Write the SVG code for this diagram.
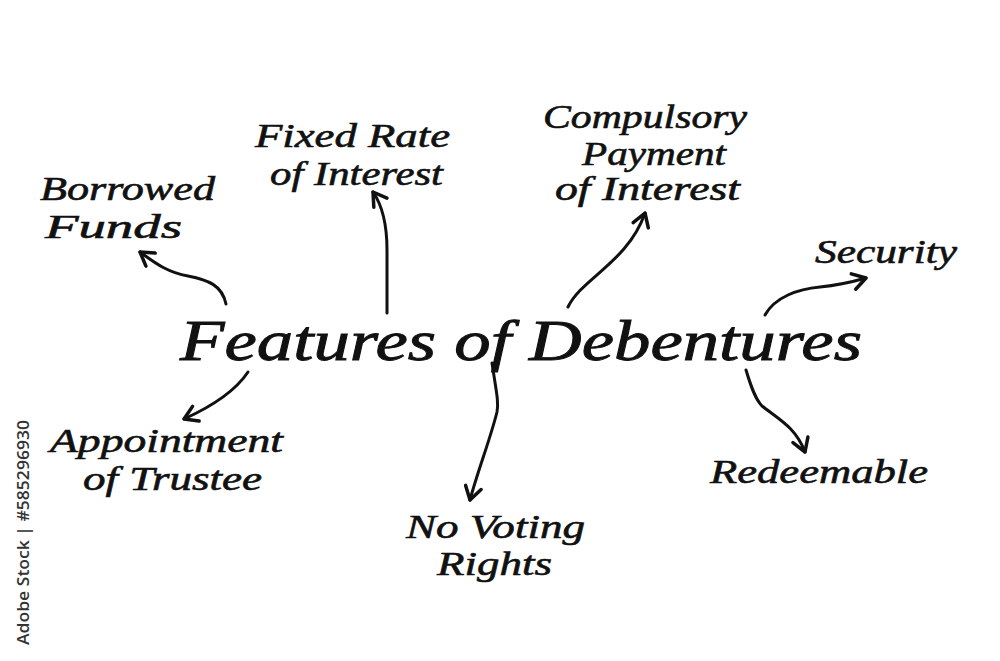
<svg xmlns="http://www.w3.org/2000/svg" width="1000" height="661" viewBox="0 0 1000 661">
<style>
.t{font-family:"Liberation Serif","DejaVu Serif",serif;font-style:italic;fill:#111;stroke:#111;stroke-width:0.6;}
.lbl{font-size:33px;}
.ttl{font-size:56px;stroke-width:0.9;}
.c{fill:none;stroke:#111;stroke-width:3;stroke-linecap:round;stroke-linejoin:round;}
.wm{font-family:"Open Sans","DejaVu Sans",sans-serif;font-size:17px;fill:#333;font-weight:600;}
</style>
<defs>
<marker id="ah" viewBox="-16 -10 20 20" markerWidth="20" markerHeight="20" refX="0" refY="0" orient="auto" markerUnits="userSpaceOnUse">
<path d="M-13,-8 L0,0 L-13,8" fill="none" stroke="#111" stroke-width="3.5" stroke-linecap="round" stroke-linejoin="round"/>
</marker>
</defs>
<rect width="1000" height="661" fill="#fff"/>
<g id="title"><text class="t ttl" x="180" y="360" textLength="682" lengthAdjust="spacingAndGlyphs">Features of Debentures</text></g>
<g id="borrowed"><text class="t lbl" x="40" y="200" textLength="175" lengthAdjust="spacingAndGlyphs">Borrowed</text><text class="t lbl" x="45" y="238" textLength="137" lengthAdjust="spacingAndGlyphs">Funds</text></g>
<g id="fixed"><text class="t lbl" x="255" y="147" textLength="195" lengthAdjust="spacingAndGlyphs">Fixed Rate</text><text class="t lbl" x="270" y="185" textLength="173" lengthAdjust="spacingAndGlyphs">of Interest</text></g>
<g id="compulsory"><text class="t lbl" x="543" y="128" textLength="204" lengthAdjust="spacingAndGlyphs">Compulsory</text><text class="t lbl" x="582" y="165" textLength="144" lengthAdjust="spacingAndGlyphs">Payment</text><text class="t lbl" x="555" y="200" textLength="185" lengthAdjust="spacingAndGlyphs">of Interest</text></g>
<g id="security"><text class="t lbl" x="815" y="263" textLength="142" lengthAdjust="spacingAndGlyphs">Security</text></g>
<g id="appointment"><text class="t lbl" x="50" y="452" textLength="233" lengthAdjust="spacingAndGlyphs">Appointment</text><text class="t lbl" x="83" y="490" textLength="179" lengthAdjust="spacingAndGlyphs">of Trustee</text></g>
<g id="novoting"><text class="t lbl" x="406" y="538" textLength="179" lengthAdjust="spacingAndGlyphs">No Voting</text><text class="t lbl" x="437" y="575" textLength="115" lengthAdjust="spacingAndGlyphs">Rights</text></g>
<g id="redeemable"><text class="t lbl" x="710" y="483" textLength="218" lengthAdjust="spacingAndGlyphs">Redeemable</text></g>
<g id="connectors">
<path class="c" marker-end="url(#ah)" d="M226,304 C222,285 208,280 188,276 C166,272 154,262 140,252"/>
<path class="c" marker-end="url(#ah)" d="M387,313 L387,250 C387,225 382,205 373,192"/>
<path class="c" marker-end="url(#ah)" d="M568,307 C582,278 628,262 645,213"/>
<path class="c" marker-end="url(#ah)" d="M765,315 C775,297 798,289 820,287 C840,285 852,282 866,278"/>
<path class="c" marker-end="url(#ah)" d="M248,372 C236,390 215,405 184,419"/>
<path class="c" marker-end="url(#ah)" d="M492,363 C496,390 499,402 497,412 C490,440 478,470 470,500"/>
<path class="c" marker-end="url(#ah)" d="M746,370 C752,390 756,400 762,406 C780,420 796,428 805,452"/>
</g>
<text class="wm" transform="translate(29,645) rotate(-90)" textLength="225" lengthAdjust="spacingAndGlyphs">Adobe Stock | #585296930</text>
</svg>
